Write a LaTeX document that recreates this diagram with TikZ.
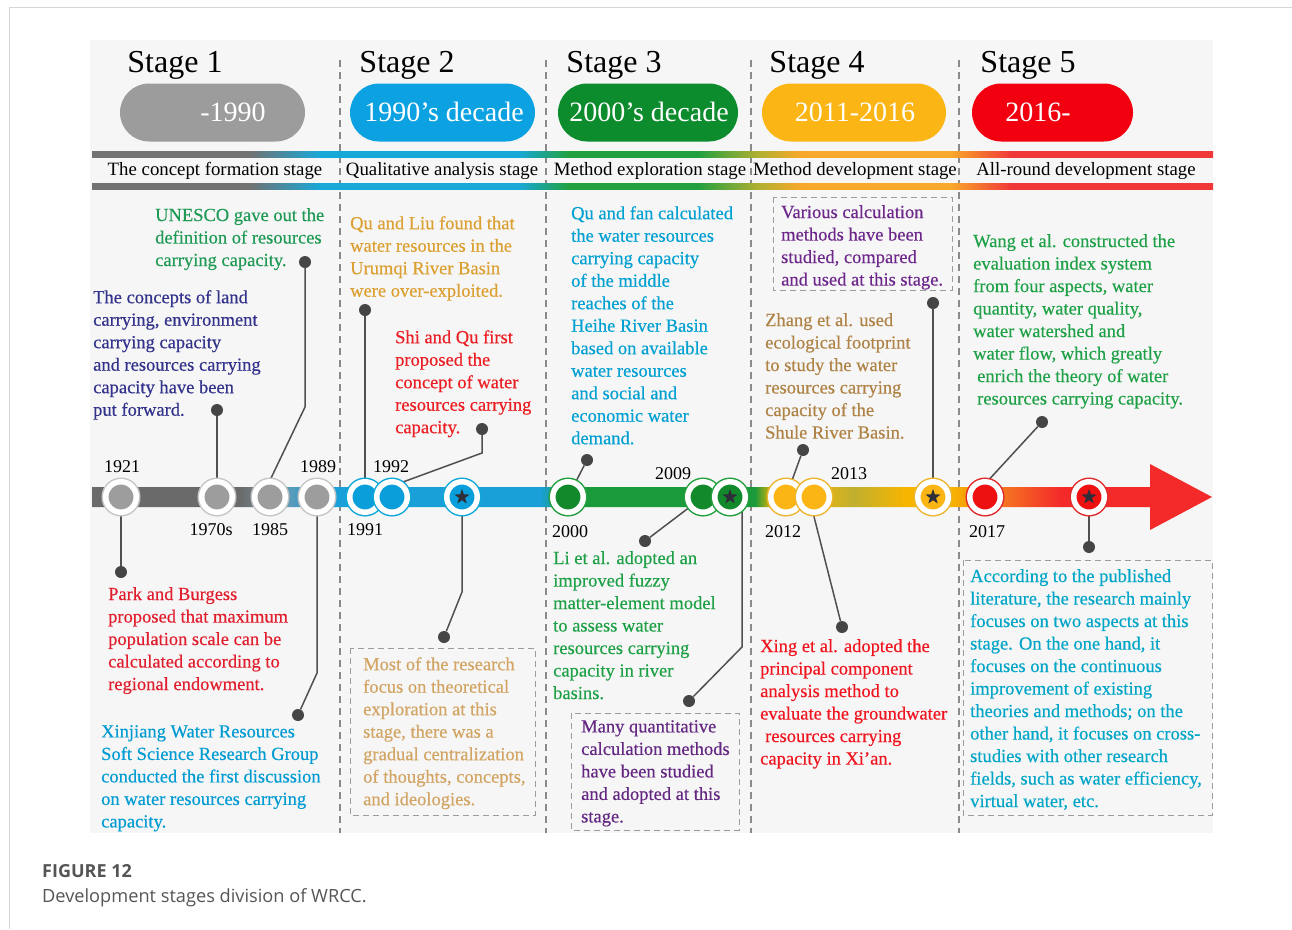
\documentclass[tikz,border=0pt]{standalone}
\usepackage{fontspec}
\setmainfont{Liberation Serif}
\newfontfamily\annfont{Liberation Serif}[FakeBold=0.35]
\newfontfamily\capfont{Open Sans}
\usetikzlibrary{shapes.geometric}
% palette
\definecolor{panelbg}{HTML}{F6F6F6}
\definecolor{framec}{HTML}{D6D6D6}
\definecolor{sepc}{HTML}{8A8A8A}
\definecolor{boxc}{HTML}{9C9C9C}
\definecolor{connc}{HTML}{505050}
\definecolor{dotc}{HTML}{454545}
\definecolor{starc}{HTML}{2E2E38}
\definecolor{capc}{HTML}{555555}
% pills
\definecolor{pgray}{HTML}{9C9C9C}
\definecolor{pblue}{HTML}{0CA2E2}
\definecolor{pgreen}{HTML}{0D8C2D}
\definecolor{porange}{HTML}{FBB515}
\definecolor{pred}{HTML}{F20010}
% circles
\definecolor{kgray}{HTML}{9D9D9D}\definecolor{bgray}{HTML}{C6C6C6}
\definecolor{kblue}{HTML}{0A9EDB}\definecolor{bblue}{HTML}{10A8D8}
\definecolor{kgreen}{HTML}{128A2B}\definecolor{bgreen}{HTML}{22A03E}
\definecolor{korange}{HTML}{FBB616}\definecolor{borange}{HTML}{EDB52E}
\definecolor{kred}{HTML}{EE1111}\definecolor{bred}{HTML}{E02A2A}
% stripe shading colours
\definecolor{sgray}{HTML}{727272}
\definecolor{sblue}{HTML}{18A8D8}
\definecolor{sgreen}{HTML}{22A040}
\definecolor{solive}{HTML}{B4B030}
\definecolor{sorange}{HTML}{F8A82A}
\definecolor{sred}{HTML}{F03838}
% timeline shading colours
\definecolor{tgray}{HTML}{6A6A6A}
\definecolor{tslate}{HTML}{7898AA}
\definecolor{tblue}{HTML}{1AA0D8}
\definecolor{tgreen}{HTML}{1A9A3A}
\definecolor{torange}{HTML}{F7B500}
\definecolor{tolive}{HTML}{C0B030}
\definecolor{tored}{HTML}{F57A20}
\definecolor{tred}{HTML}{F42A2A}
% text colours
\definecolor{cUN}{HTML}{1E9A55}
\definecolor{cLand}{HTML}{32328C}
\definecolor{cLiu}{HTML}{DCA032}
\definecolor{cShi}{HTML}{EB1E23}
\definecolor{cFan}{HTML}{00A0D2}
\definecolor{cVar}{HTML}{6E288C}
\definecolor{cZhang}{HTML}{AF8246}
\definecolor{cWang}{HTML}{1EA046}
\definecolor{cPark}{HTML}{E11E2D}
\definecolor{cXin}{HTML}{009BD2}
\definecolor{cMost}{HTML}{D2A564}
\definecolor{cLi}{HTML}{1EA046}
\definecolor{cMany}{HTML}{642882}
\definecolor{cXing}{HTML}{F0141E}
\definecolor{cAcc}{HTML}{00A5C8}
\pgfdeclarehorizontalshading{stripesh}{100bp}{color(0bp)=(sgray); color(25bp)=(sgray); color(32bp)=(sgray); color(35.2bp)=(sblue); color(44bp)=(sblue); color(46.3bp)=(sgreen); color(52bp)=(sgreen); color(54.8bp)=(solive); color(56.6bp)=(sorange); color(63.3bp)=(sorange); color(66bp)=(sred); color(75bp)=(sred); color(100bp)=(sred)}
\pgfdeclarehorizontalshading{timesh}{100bp}{color(0bp)=(tgray); color(25bp)=(tgray); color(31.6bp)=(tgray); color(33.2bp)=(tslate); color(35.2bp)=(tblue); color(45bp)=(tblue); color(46.5bp)=(tgreen); color(54.6bp)=(tgreen); color(55.4bp)=(torange); color(56.8bp)=(torange); color(59bp)=(tolive); color(61.3bp)=(torange); color(63.3bp)=(torange); color(65.5bp)=(tored); color(68.2bp)=(tred); color(75bp)=(tred); color(100bp)=(tred)}
\begin{document}
\begin{tikzpicture}[x=1pt,y=-1pt,
  txt/.style={anchor=north west, inner sep=0pt, align=left, text=#1,
    font=\annfont\fontsize{18.5}{22.5}\selectfont},
  stagetitle/.style={anchor=base, inner sep=0pt, font=\fontsize{32}{36}\selectfont},
  pill/.style={rectangle, rounded corners=29pt, fill=#1, minimum height=58pt, inner sep=0pt},
  pilltext/.style={anchor=center, inner sep=0pt, text=white, font=\fontsize{28}{32}\selectfont},
  rowlabel/.style={anchor=base, inner sep=0pt, font=\fontsize{18.8}{22}\selectfont},
  year/.style={anchor=base, inner sep=0pt, font=\fontsize{18}{22}\selectfont},
  tlc/.style 2 args={circle, inner sep=0pt, minimum size=30.5pt, fill=#1, draw=white,
    line width=5.5pt, preaction={draw=#2, line width=8.5pt}},
  starmark/.style={star, star points=5, star point ratio=2.5, fill=starc, inner sep=0pt, minimum size=16pt},
  dotnode/.style={circle, fill=dotc, inner sep=0pt, minimum size=12pt},
  conn/.style={draw=connc, line width=1.5pt},
  sepline/.style={draw=sepc, line width=1.1pt, dash pattern=on 7pt off 5pt},
  dbox/.style={draw=boxc, line width=0.9pt, dash pattern=on 6pt off 4pt}
]
\useasboundingbox (0,0) rectangle (1292,929);
% frame and panel
\draw[framec, line width=1.3pt] (9.5,929) -- (9.5,7.5) -- (1292,7.5);
\fill[panelbg] (90,40) rectangle (1213,833);
% separators
\foreach \sx in {340,546,751,959} { \path[sepline] (\sx,60) -- (\sx,833); }
% stage titles
\node[stagetitle] (st1) at (175,72) {Stage 1};
\node[stagetitle] (st2) at (407,72) {Stage 2};
\node[stagetitle] (st3) at (614,72) {Stage 3};
\node[stagetitle] (st4) at (817,72) {Stage 4};
\node[stagetitle] (st5) at (1028,72) {Stage 5};
% pills
\node[pill=pgray, minimum width=185pt] (p1) at (212.5,112.5) {};
\node[pill=pblue, minimum width=185pt] (p2) at (442.5,112.5) {};
\node[pill=pgreen, minimum width=180pt] (p3) at (648,112.5) {};
\node[pill=porange, minimum width=184pt] (p4) at (854,112.5) {};
\node[pill=pred, minimum width=161pt] (p5) at (1052.5,112.5) {};
\node[pilltext] (pt1) at (233,112) {-1990};
\node[pilltext] (pt2) at (444,112) {1990’s decade};
\node[pilltext] (pt3) at (649,112) {2000’s decade};
\node[pilltext] (pt4) at (855,112) {2011-2016};
\node[pilltext] (pt5) at (1038,112) {2016-};
% stripe bars
\shade[shading=stripesh] (92,151) rectangle (1213,157);
\shade[shading=stripesh] (92,183) rectangle (1213,189);
\node[rowlabel] (r1) at (215,175) {The concept formation stage};
\node[rowlabel] (r2) at (442,175) {Qualitative analysis stage};
\node[rowlabel] (r3) at (650,175) {Method exploration stage};
\node[rowlabel] (r4) at (855,175) {Method development stage};
\node[rowlabel] (r5) at (1086,175) {All-round development stage};
% timeline bar with arrow
\shade[shading=timesh] (92,487) -- (1150,487) -- (1150,464) -- (1212,497) -- (1150,530) -- (1150,507) -- (92,507) -- cycle;
% dashed boxes
\path[dbox] (773,197) rectangle (952,290);
\path[dbox] (350,648) rectangle (535,815);
\path[dbox] (571,713) rectangle (739,830);
\path[dbox] (963,560) rectangle (1212,815);
% texts
\node[txt=cUN] (tUN) at (155,208) {UNESCO gave out the\\definition of resources\\carrying capacity.};
\node[txt=cLand] (tLand) at (93,290) {The concepts of land\\carrying, environment\\carrying capacity\\and resources carrying\\capacity have been\\put forward.};
\node[txt=cLiu] (tLiu) at (350,216) {Qu and Liu found that\\water resources in the\\Urumqi River Basin\\were over-exploited.};
\node[txt=cShi] (tShi) at (395,330) {Shi and Qu first\\proposed the\\concept of water\\resources carrying\\capacity.};
\node[txt=cFan] (tFan) at (571,206) {Qu and fan calculated\\the water resources\\carrying capacity\\of the middle\\reaches of the\\Heihe River Basin\\based on available\\water resources\\and social and\\economic water\\demand.};
\node[txt=cVar] (tVar) at (781,205) {Various calculation\\methods have been\\studied, compared\\and used at this stage.};
\node[txt=cZhang] (tZhang) at (765,313) {Zhang et al. used\\ecological footprint\\to study the water\\resources carrying\\capacity of the\\Shule River Basin.};
\node[txt=cWang] (tWang) at (973,234) {Wang et al. constructed the\\evaluation index system\\from four aspects, water\\quantity, water quality,\\water watershed and\\water flow, which greatly\\\hspace*{4pt}enrich the theory of water\\\hspace*{4pt}resources carrying capacity.};
\node[txt=cPark] (tPark) at (108,587) {Park and Burgess\\proposed that maximum\\population scale can be\\calculated according to\\regional endowment.};
\node[txt=cXin] (tXin) at (101,725) {Xinjiang Water Resources\\Soft Science Research Group\\conducted the first discussion\\on water resources carrying\\capacity.};
\node[txt=cMost] (tMost) at (363,657) {Most of the research\\focus on theoretical\\exploration at this\\stage, there was a\\gradual centralization\\of thoughts, concepts,\\and ideologies.};
\node[txt=cLi] (tLi) at (553,551) {Li et al. adopted an\\improved fuzzy\\matter-element model\\to assess water\\resources carrying\\capacity in river\\basins.};
\node[txt=cMany] (tMany) at (581,720) {Many quantitative\\calculation methods\\have been studied\\and adopted at this\\stage.};
\node[txt=cXing] (tXing) at (760,639) {Xing et al. adopted the\\principal component\\analysis method to\\evaluate the groundwater\\\hspace*{5pt}resources carrying\\capacity in Xi’an.};
\node[txt=cAcc] (tAcc) at (970,569) {According to the published\\literature, the research mainly\\focuses on two aspects at this\\stage. On the one hand, it\\focuses on the continuous\\improvement of existing\\theories and methods; on the\\other hand, it focuses on cross-\\studies with other research\\fields, such as water efficiency,\\virtual water, etc.};
% dots and elbows
\node[dotnode] (dPark) at (121,572) {};
\node[dotnode] (dLand) at (217,410) {};
\node[dotnode] (dUN) at (305,262) {};
\node[dotnode] (dXin) at (298,715) {};
\node[dotnode] (dLiu) at (365,310) {};
\node[dotnode] (dShi) at (482,429) {};
\node[dotnode] (dMost) at (444,637) {};
\node[dotnode] (dFan) at (587,460) {};
\node[dotnode] (dLi) at (645,541) {};
\node[dotnode] (dMany) at (689,701) {};
\node[dotnode] (dZhang) at (803,450) {};
\node[dotnode] (dXing) at (842,627) {};
\node[dotnode] (dVar) at (933,303) {};
\node[dotnode] (dWang) at (1042,422) {};
\node[dotnode] (dAcc) at (1089,547) {};
\coordinate (eUN) at (305,407);
\coordinate (eXin) at (317,673);
\coordinate (eShi) at (482,453);
\coordinate (eMost) at (462,592);
\coordinate (eMany) at (742,647);
% circle positions
\path (121,497) coordinate (k1921) (217,497) coordinate (k1970) (270,497) coordinate (k1985)
      (317,497) coordinate (k1989) (365,497) coordinate (k1991) (392,497) coordinate (k1992)
      (462,497) coordinate (kS2) (568,497) coordinate (k2000) (703,497) coordinate (k2009)
      (730,497) coordinate (kS3) (786,497) coordinate (k2012) (814,497) coordinate (k2013)
      (933,497) coordinate (kS4) (985,497) coordinate (k2017) (1089,497) coordinate (kS5);
% connectors
\draw[conn] (k1921) -- (dPark);
\draw[conn] (k1970) -- (dLand);
\draw[conn] (dUN) -- (eUN) -- ([xshift=-8pt]k1985);
\draw[conn] (k1989) -- (eXin) -- (dXin);
\draw[conn] (k1991) -- (dLiu);
\draw[conn] (dShi) -- (eShi) -- ([yshift=11pt]k1992);
\draw[conn] (kS2) -- (eMost) -- (dMost);
\draw[conn] (k2000) -- (dFan);
\draw[conn] (k2009) -- (dLi);
\draw[conn] (dMany) -- (eMany) -- (eMany |- kS3);
\draw[conn] (k2012) -- (dZhang);
\draw[conn] ([xshift=-5pt]k2013) -- (dXing);
\draw[conn] (kS4) -- (dVar);
\draw[conn] ([xshift=-12pt]k2017) -- (dWang);
\draw[conn] (kS5) -- (dAcc);
% circles
\node[tlc={kgray}{bgray}] (c1921) at (k1921) {};
\node[tlc={kgray}{bgray}] (c1970) at (k1970) {};
\node[tlc={kgray}{bgray}] (c1985) at (k1985) {};
\node[tlc={kgray}{bgray}] (c1989) at (k1989) {};
\node[tlc={kblue}{bblue}] (c1991) at (k1991) {};
\node[tlc={kblue}{bblue}] (c1992) at (k1992) {};
\node[tlc={kblue}{bblue}] (cS2) at (kS2) {};
\node[tlc={kgreen}{bgreen}] (c2000) at (k2000) {};
\node[tlc={kgreen}{bgreen}] (c2009) at (k2009) {};
\node[tlc={kgreen}{bgreen}] (cS3) at (kS3) {};
\node[tlc={korange}{borange}] (c2012) at (k2012) {};
\node[tlc={korange}{borange}] (c2013) at (k2013) {};
\node[tlc={korange}{borange}] (cS4) at (kS4) {};
\node[tlc={kred}{bred}] (c2017) at (k2017) {};
\node[tlc={kred}{bred}] (cS5) at (kS5) {};
\node[starmark] (s2) at (cS2) {};
\node[starmark] (s3) at (cS3) {};
\node[starmark] (s4) at (cS4) {};
\node[starmark] (s5) at (cS5) {};
% year labels
\node[year] (y1921) at (122,472) {1921};
\node[year] (y1989) at (318,472) {1989};
\node[year] (y1992) at (391,472) {1992};
\node[year] (y2009) at (673,479) {2009};
\node[year] (y2013) at (849,479) {2013};
\node[year] (y1970) at (211,535) {1970s};
\node[year] (y1985) at (270,535) {1985};
\node[year] (y1991) at (365,535) {1991};
\node[year] (y2000) at (570,537) {2000};
\node[year] (y2012) at (783,537) {2012};
\node[year] (y2017) at (987,537) {2017};
% caption
\node[anchor=base west, inner sep=0pt, text=capc, font=\capfont\bfseries\fontsize{18}{21}\selectfont] (capA) at (42,877) {FIGURE 12};
\node[anchor=base west, inner sep=0pt, text=capc, font=\capfont\fontsize{18.2}{21}\selectfont] (capB) at (42,902) {Development stages division of WRCC.};
\end{tikzpicture}
\end{document}
